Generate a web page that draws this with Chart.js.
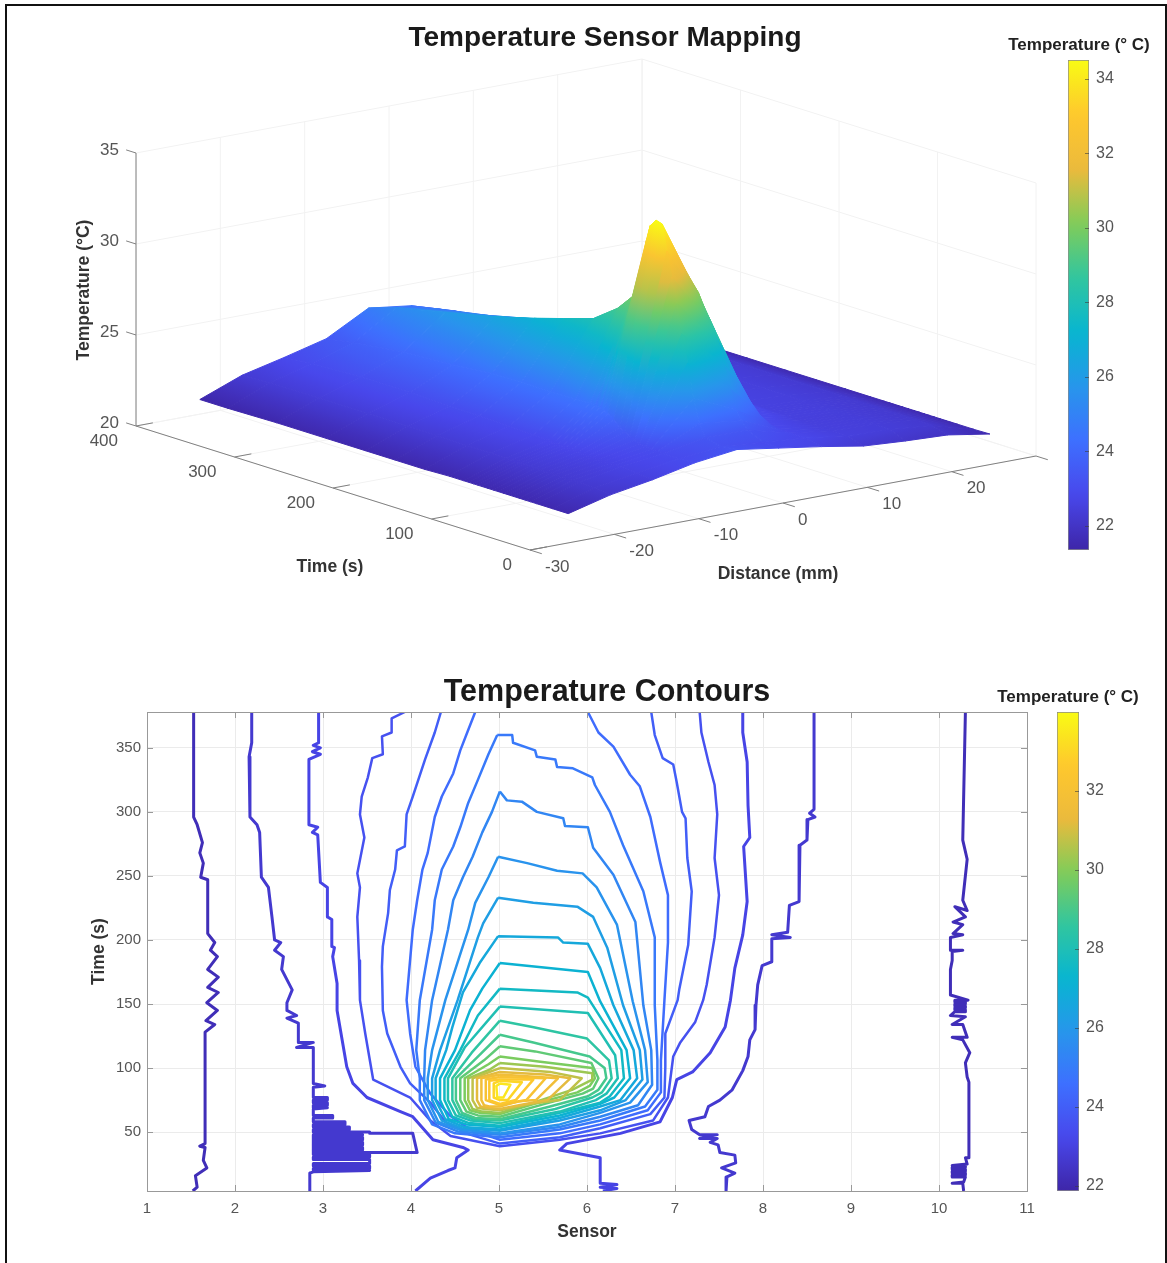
<!DOCTYPE html>
<html>
<head>
<meta charset="utf-8">
<title>Temperature Sensor Mapping</title>
<script src="https://cdn.jsdelivr.net/npm/chart.js@4"></script>
<style>
html, body { margin: 0; padding: 0; background: #fff; overflow: hidden; width: 1167px; height: 1263px; }
canvas { position: absolute; filter: blur(0.5px); }
#frame { position: absolute; left: 5px; top: 4px; right: 0; bottom: -10px; border: 2px solid #111; }
</style>
</head>
<body>
<div id="frame"></div>
<canvas id="surface" width="1210" height="620" style="left:0;top:0"></canvas>
<canvas id="contours" width="1094" height="603" style="left:60px;top:660px"></canvas>
<canvas id="bar1" width="158" height="517" style="left:1000px;top:33px"></canvas>
<canvas id="bar2" width="158" height="506" style="left:989px;top:685px"></canvas>
<script>
// surface table, one array per sensor, values at sampleTimes
const sampleTimes = [4, 20, 36, 42, 48, 54, 60, 65, 70, 75, 80, 86, 92, 96, 100, 105, 110, 125, 150, 180, 210, 250, 300, 350, 378];
const sensorDistances = [-25, -20, -15, -10, -5, 0, 5, 10, 15, 20, 25];
const tempSensor1 = [21.5, 21.5, 21.5, 21.5, 21.5, 21.5, 21.5, 21.5, 21.5, 21.5, 21.5, 21.5, 21.5, 21.5, 21.5, 21.5, 21.5, 21.5, 21.45, 21.45, 21.45, 21.45, 21.45, 21.4, 21.4];
const tempSensor2 = [22.1, 22.2, 22.25, 22.25, 22.25, 22.25, 22.25, 22.25, 22.25, 22.27, 22.28, 22.29, 22.3, 22.3, 22.3, 22.3, 22.3, 22.32, 22.33, 22.35, 22.38, 22.4, 22.38, 22.35, 22.3];
const tempSensor3 = [22.5, 22.6, 22.65, 22.65, 22.65, 22.65, 22.65, 22.68, 22.7, 22.72, 22.75, 22.76, 22.78, 22.79, 22.8, 22.82, 22.85, 22.9, 22.97, 23, 23.05, 23.1, 23.1, 23, 22.85];
const tempSensor4 = [23, 22.95, 22.95, 22.97, 23, 23.05, 23.1, 23.2, 23.35, 23.5, 23.65, 23.95, 24.2, 24.3, 24.4, 24.43, 24.45, 24.45, 24.4, 24.45, 24.4, 24.2, 24.05, 23.7, 23.45];
const tempSensor5 = [23.3, 23.2, 23.4, 24.1, 25.35, 27.2, 28.7, 30.3, 31.65, 33, 34.4, 34.5, 34.1, 33.2, 31.9, 30.5, 29.9, 29, 28, 27.5, 27, 26.4, 25.8, 25.2, 24.7];
const tempSensor6 = [22.95, 23, 23.4, 23.8, 24.3, 25.4, 26.6, 27.6, 28.4, 28.9, 29.4, 30.1, 30.5, 30.1, 29.85, 29.3, 28.9, 28.4, 27.7, 27.05, 26.45, 25.85, 25.2, 24.7, 24.4];
const tempSensor7 = [22.6, 22.8, 22.8, 22.82, 22.85, 22.88, 22.9, 22.95, 23, 23.05, 23.1, 23.15, 23.2, 23.3, 23.45, 23.52, 23.6, 23.85, 24.05, 24.25, 24.3, 24.25, 24.1, 23.85, 23.7];
const tempSensor8 = [22.2, 22.5, 22.5, 22.5, 22.5, 22.5, 22.5, 22.5, 22.5, 22.52, 22.55, 22.55, 22.55, 22.55, 22.55, 22.56, 22.58, 22.6, 22.62, 22.75, 22.95, 23, 23, 22.98, 22.8];
const tempSensor9 = [22.05, 22.4, 22.42, 22.42, 22.42, 22.42, 22.42, 22.42, 22.43, 22.44, 22.44, 22.44, 22.45, 22.45, 22.46, 22.46, 22.47, 22.48, 22.48, 22.5, 22.52, 22.54, 22.55, 22.5, 22.2];
const tempSensor10 = [21.95, 22.2, 22.22, 22.22, 22.22, 22.22, 22.23, 22.23, 22.23, 22.24, 22.24, 22.24, 22.24, 22.25, 22.25, 22.25, 22.25, 22.26, 22.26, 22.26, 22.27, 22.27, 22.28, 22.2, 21.9];
const tempSensor11 = [21.57, 21.55, 21.55, 21.55, 21.55, 21.55, 21.55, 21.55, 21.55, 21.55, 21.55, 21.55, 21.55, 21.55, 21.55, 21.55, 21.55, 21.55, 21.55, 21.55, 21.55, 21.55, 21.55, 21.55, 21.55];
const tempBySensor = [tempSensor1, tempSensor2, tempSensor3, tempSensor4, tempSensor5, tempSensor6, tempSensor7, tempSensor8, tempSensor9, tempSensor10, tempSensor11];

const timeTicks = [0, 100, 200, 300, 400];
const distanceTicks = [-30, -20, -10, 0, 10, 20];
const tempTicks = [20, 25, 30, 35];
const barTicksTop = [22, 24, 26, 28, 30, 32, 34];
const barTicksBottom = [22, 24, 26, 28, 30, 32];

// contour lines as [sensor, time]
const c1a = [[1.53,378],[1.53,296],[1.57,290],[1.63,276],[1.6,268],[1.64,260],[1.61,249],[1.69,247],[1.69,205],[1.77,198],[1.72,192],[1.8,187],[1.69,177],[1.81,171],[1.69,163],[1.81,159],[1.68,151],[1.8,145],[1.67,137],[1.77,134],[1.66,128],[1.66,41],[1.6,39],[1.66,38],[1.64,28],[1.68,22],[1.55,16],[1.57,7],[1.52,4]];
const c1b = [[10.3,378],[10.27,278],[10.32,263],[10.27,231],[10.32,223],[10.18,226],[10.3,218],[10.16,214],[10.27,212],[10.16,205],[10.27,204],[10.13,202],[10.13,192],[10.27,192],[10.15,191],[10.15,184],[10.13,177],[10.13,157],[10.33,153],[10.18,153],[10.18,151.5],[10.3,151.5],[10.3,150],[10.18,150],[10.18,148.5],[10.3,148.5],[10.3,147],[10.18,147],[10.18,145.5],[10.3,145.5],[10.3,144],[10.18,144],[10.13,141],[10.3,140],[10.15,134],[10.27,134],[10.32,124],[10.15,124],[10.27,122],[10.35,112],[10.3,104],[10.32,93],[10.34,89],[10.34,30],[10.3,30],[10.32,25],[10.15,24],[10.3,24],[10.3,22.5],[10.15,22.5],[10.15,21],[10.3,21],[10.3,19.5],[10.15,19.5],[10.15,18],[10.3,18],[10.3,16.5],[10.15,16.5],[10.15,15],[10.3,15],[10.28,11],[10.15,10],[10.27,10],[10.28,4]];
const c2a = [[2.19,378],[2.19,354],[2.16,343],[2.17,296],[2.25,290],[2.28,284],[2.3,249],[2.38,241],[2.42,218],[2.45,200],[2.52,198],[2.45,192],[2.55,187],[2.53,177],[2.65,161],[2.59,151],[2.59,145],[2.7,141],[2.59,139],[2.72,135],[2.72,120],[2.89,120],[2.7,116],[2.89,116],[2.89,88],[3.02,86],[2.89,85],[2.89,77],[3.05,77],[3.05,75],[2.89,75],[2.89,73],[3.05,73],[3.05,71],[2.89,71],[2.89,69],[3.05,69],[2.89,68],[2.89,63],[3.11,63],[3.11,61],[2.89,61],[2.89,58],[3.25,58],[3.25,56],[2.89,56],[2.89,54],[3.3,54],[3.3,52],[2.89,52],[2.89,50],[3.53,50],[3.53,49],[4.02,49],[4.07,34],[3.45,34],[2.89,34],[2.89,36],[3.45,36],[3.45,38],[2.89,38],[2.89,40],[3.45,40],[3.45,42],[2.89,42],[2.89,44],[3.45,44],[3.45,46],[2.89,46],[2.89,48],[3.45,48],[2.89,48],[2.89,32.5],[3.53,32.5],[3.53,30.5],[2.89,30.5],[2.89,28.5],[3.53,28.5],[3.53,25.5],[2.89,25.5],[2.89,23.5],[3.53,23.5],[3.53,21.5],[2.89,21.5],[2.89,20],[3.53,20],[2.89,19],[2.85,18],[2.85,4]];
const c2b = [[8.58,378],[8.58,302],[8.53,299],[8.59,296],[8.51,294],[8.5,278],[8.42,274],[8.41,230],[8.3,227],[8.28,206],[8.1,204],[8.31,202],[8.1,201],[8.1,183],[7.99,180],[7.94,165],[7.92,149],[7.91,130],[7.85,122],[7.83,109],[7.77,98],[7.65,83],[7.51,75],[7.38,70],[7.34,62],[7.16,59],[7.19,52],[7.28,48],[7.48,48],[7.28,45],[7.48,45],[7.4,42],[7.49,40],[7.51,34],[7.68,32],[7.69,26],[7.53,22],[7.68,18],[7.59,15],[7.58,4]];
const c3a = [[2.95,378],[2.95,354],[2.89,352],[2.97,350],[2.88,347],[2.97,345],[2.84,341],[2.84,290],[2.94,288],[2.88,284],[2.94,282],[2.97,245],[3.05,241],[3.05,218],[3.1,216],[3.1,195],[3.13,194],[3.11,187],[3.16,166],[3.16,145],[3.27,101],[3.34,88],[3.5,77],[3.88,66],[4.02,62],[4.25,44],[4.59,38],[4.65,36],[4.52,30],[4.5,22],[4.42,20],[4.22,14],[4.05,4]];
const c3b = [[7.77,378],[7.77,362],[7.82,339],[7.83,305],[7.85,280],[7.78,273],[7.82,230],[7.77,204],[7.68,178],[7.63,153],[7.57,132],[7.4,112],[7.2,97],[7.02,91],[6.97,77],[6.83,58],[6.38,49],[5.77,41],[5.69,36],[6.15,30],[6.15,10],[6.34,9],[6.15,7],[6.34,6],[6.18,4]];
const c4 = [[3.93,378],[3.78,373],[3.78,362],[3.67,359],[3.68,345],[3.56,342],[3.51,327],[3.44,312],[3.42,298],[3.47,280],[3.39,252],[3.42,241],[3.39,218],[3.41,184],[3.42,153],[3.48,127],[3.57,91],[3.99,77],[4.22,59],[4.45,47],[5.01,39],[5.69,44],[6.15,49],[6.75,59],[6.92,77],[6.98,109],[7.06,120],[7.23,136],[7.32,153],[7.36,165],[7.45,202],[7.5,235],[7.45,264],[7.48,298],[7.45,321],[7.38,339],[7.3,362],[7.28,378]];
const c5 = [[4.34,378],[4.27,362],[4.16,341],[4.02,312],[3.95,298],[3.93,273],[3.84,270],[3.82,255],[3.76,239],[3.74,221],[3.68,195],[3.67,179],[3.68,145],[3.73,127],[3.88,101],[3.99,88],[4.22,73],[4.39,58],[4.67,48],[5.01,41],[5.69,46],[6.15,53],[6.72,64],[6.88,77],[6.89,101],[6.89,127],[7.03,153],[7.05,162],[7.15,196],[7.19,238],[7.14,264],[7.12,295],[7.08,300],[7.02,323],[6.98,337],[6.86,342],[6.77,360],[6.73,378]];
const c6 = [[4.73,378],[4.65,364],[4.56,348],[4.48,330],[4.35,312],[4.27,296],[4.19,268],[4.13,255],[4.07,231],[4.02,208],[3.95,153],[3.99,127],[4.05,101],[4.22,80],[4.44,63],[4.67,52],[5.01,44],[5.69,49],[6.15,56],[6.69,67],[6.84,81],[6.84,106],[6.88,153],[6.92,198],[6.92,235],[6.83,261],[6.72,296],[6.6,320],[6.49,329],[6.3,351],[6.13,362],[6.01,378]];
const c7 = [[4.98,360],[5.15,360],[5.16,354],[5.41,348],[5.43,343],[5.64,341],[5.66,335],[5.84,334],[6.06,327],[6.09,321],[6.26,300],[6.41,274],[6.64,238],[6.77,202],[6.77,149],[6.8,106],[6.8,83],[6.66,70],[6.15,59],[5.69,52],[5.01,46],[4.5,49],[4.24,56],[4.1,75],[4.1,92],[4.06,114],[4.1,153],[4.24,208],[4.27,231],[4.35,255],[4.48,273],[4.56,288],[4.65,307],[4.76,325],[4.88,345],[4.98,360]];
const c8 = [[5.01,316],[5.09,309],[5.26,308],[5.43,300],[5.73,295],[5.75,289],[6.01,288],[6.07,272],[6.3,251],[6.55,214],[6.64,149],[6.73,114],[6.74,87],[6.58,71],[6.15,62],[5.69,54],[5.01,48],[4.53,50.5],[4.28,57.5],[4.15,75],[4.15,92],[4.16,114],[4.24,153],[4.42,208],[4.48,231],[4.59,249],[4.7,265],[4.81,284],[4.92,300],[5.01,316]];
const c9 = [[4.99,265],[5.32,260],[5.66,254],[5.95,252],[6.11,241],[6.34,212],[6.52,152],[6.66,114],[6.69,89],[6.49,73],[6.15,65],[5.69,56],[5.01,49],[4.55,52],[4.31,58],[4.19,75],[4.19,92],[4.24,114],[4.39,153],[4.65,208],[4.73,229],[4.88,249],[4.99,265]];
const c10 = [[4.99,233],[5.39,229],[5.89,226],[6.07,218],[6.23,194],[6.41,149],[6.6,114],[6.63,91],[6.44,75],[6.15,67],[5.69,59],[5.01,51],[4.58,53],[4.35,59],[4.24,75],[4.24,92],[4.33,114],[4.53,153],[4.76,202],[4.82,213],[4.99,233]];
const c11 = [[4.99,203],[5.67,202],[5.73,198],[6.01,197],[6.15,178],[6.3,149],[6.53,114],[6.57,92],[6.38,75],[6.15,70],[5.69,61],[5.01,52],[4.6,54],[4.39,60],[4.28,75],[4.28,92],[4.4,114],[4.47,132],[4.59,159],[4.78,182],[4.99,203]];
const c12 = [[5.01,182],[6.01,175],[6.15,152],[6.45,114],[6.49,92],[6.31,77],[6.15,72],[5.69,63],[5.01,54],[4.63,56],[4.43,60],[4.33,75],[4.33,92],[4.5,114],[4.67,145],[4.81,162],[5.01,182]];
const c13 = [[5.01,162],[5.89,159],[6.01,155],[6.39,114],[6.42,92],[6.26,78],[6.15,73],[5.69,65],[5.01,55],[4.66,57],[4.47,62],[4.38,75],[4.38,92],[4.56,114],[4.76,141],[5.01,162]];
const c14 = [[5.01,148],[6.01,143],[6.32,110],[6.35,92],[6.22,80],[6.1,75],[5.69,66],[5.01,57],[4.68,59],[4.51,63],[4.42,75],[4.42,92],[4.61,116],[5.01,148]];
const c15 = [[5.01,137],[5.38,132],[6,123],[6.25,106],[6.28,92],[6.17,81],[6.06,77],[5.64,68],[5.01,59],[4.71,60],[4.55,64],[4.47,75],[4.47,92],[4.69,112],[5.01,137]];
const c16 = [[5.01,126],[5.39,120],[6.03,109],[6.2,100],[6.22,92],[6.13,83],[6.01,78],[5.58,70],[5.01,60],[4.73,61],[4.58,65],[4.51,75],[4.51,92],[4.76,109],[5.01,126]];
const c17 = [[5.01,117],[5.41,113],[6.05,104],[6.13,92],[6.07,84],[5.95,80],[5.52,72],[5.01,62],[4.76,63],[4.63,66],[4.56,75],[4.56,92],[4.83,106],[5.01,117]];
const c18 = [[5.01,109],[5.47,105],[6.06,100],[6.09,92],[6.03,86],[5.89,81],[5.45,73],[5.01,64],[4.78,65],[4.67,67],[4.61,75],[4.61,92],[4.88,103],[5.01,109]];
const c19 = [[5.01,104],[5.52,101],[6.06,96],[6.06,91],[5.83,83],[5.39,73],[5.01,65],[4.81,66],[4.7,68],[4.65,75],[4.65,92],[4.9,99],[5.01,104]];
const c20 = [[5.01,100],[5.58,97],[5.94,92],[5.69,75],[5.35,72],[5.01,67],[4.84,68],[4.75,69],[4.7,75],[4.7,92],[5.01,100]];
const c21 = [[5.01,97],[5.52,95],[5.81,92],[5.55,75],[5.3,72],[5.01,68],[4.86,69],[4.79,70],[4.75,75],[4.75,92],[5.01,97]];
const c22 = [[5.01,95],[5.67,92],[5.42,75],[5.22,74],[5.01,70],[4.89,70],[4.83,71],[4.8,75],[4.8,92],[5.01,95]];
const c23 = [[5.01,93],[5.53,92],[5.31,75],[5.01,71],[4.85,75],[4.85,91],[5.01,93]];
const c24 = [[5.01,91],[5.39,91],[5.19,75],[5.01,72],[4.89,75],[4.89,90],[5.01,91]];
const c25 = [[5.01,90],[5.26,89],[5.1,75],[5.01,75],[4.94,77],[4.94,88],[5.01,90]];
const c26 = [[5.01,88],[5.13,87],[5.05,77],[4.98,77],[4.97,86],[5.01,88]];

const contourLevels = [22.2, 22.2, 22.65, 22.65, 23.1, 23.1, 23.55, 24, 24.45, 24.9, 25.35, 25.8, 26.25, 26.7, 27.15, 27.6, 28.05, 28.5, 28.95, 29.4, 29.85, 30.3, 30.75, 31.2, 31.65, 32.1, 32.55, 33, 33.45];
const contourLines = [c1a, c1b, c2a, c2b, c3a, c3b, c4, c5, c6, c7, c8, c9, c10, c11, c12, c13, c14, c15, c16, c17, c18, c19, c20, c21, c22, c23, c24, c25, c26];

const parulaStops = [[62,38,168],[72,71,235],[62,111,255],[39,150,235],[8,181,208],[49,198,159],[129,204,89],[236,186,60],[254,200,45],[249,251,20]];

function parula(f) {
    f = Math.max(0, Math.min(1, f)) * (parulaStops.length - 1);
    var i = Math.min(Math.floor(f), parulaStops.length - 2);
    var a = parulaStops[i], b = parulaStops[i + 1], k = f - i;
    return 'rgb(' + Math.round(a[0] + (b[0] - a[0]) * k) + ',' + Math.round(a[1] + (b[1] - a[1]) * k) + ',' + Math.round(a[2] + (b[2] - a[2]) * k) + ')';
}

// orthographic view of the 3D box
function project(t, d, z) {
    return {
        x: 530 + (d + 30) / 60 * 506 - t / 400 * 394,
        y: 550 - (d + 30) / 60 * 94 - t / 400 * 124 - (z - 20) * 18.2
    };
}

const surfMin = 21.35, surfMax = 34.5;

// colour a cell with a linear gradient running along its temperature slope
function cellGradient(chart, cell) {
    var sx = chart.scales.x, sy = chart.scales.y;
    var p = cell.map(function (c) {
        return { x: sx.getPixelForValue(c.x), y: sy.getPixelForValue(c.y), T: c.T };
    });
    var mean = (p[0].T + p[1].T + p[2].T + p[3].T) / 4;
    var frac = function (T) { return (T - surfMin) / (surfMax - surfMin); };
    if (!isFinite(p[0].x) || !isFinite(p[0].y)) return parula(frac(mean)); // scales not laid out yet
    var e1x = (p[1].x - p[0].x + p[2].x - p[3].x) / 2, e1y = (p[1].y - p[0].y + p[2].y - p[3].y) / 2, d1 = (p[1].T - p[0].T + p[2].T - p[3].T) / 2;
    var e2x = (p[3].x - p[0].x + p[2].x - p[1].x) / 2, e2y = (p[3].y - p[0].y + p[2].y - p[1].y) / 2, d2 = (p[3].T - p[0].T + p[2].T - p[1].T) / 2;
    var det = e1x * e2y - e1y * e2x;
    var lo = Math.min(p[0].T, p[1].T, p[2].T, p[3].T), hi = Math.max(p[0].T, p[1].T, p[2].T, p[3].T);
    if (Math.abs(det) < 1e-6 || hi - lo < 0.01) return parula(frac(mean));
    var a = (d1 * e2y - d2 * e1y) / det, b = (e1x * d2 - e2x * d1) / det;
    var n = a * a + b * b;
    if (n < 1e-9) return parula(frac(mean));
    var cx = (p[0].x + p[1].x + p[2].x + p[3].x) / 4, cy = (p[0].y + p[1].y + p[2].y + p[3].y) / 4;
    var g = chart.ctx.createLinearGradient(cx + (lo - mean) * a / n, cy + (lo - mean) * b / n, cx + (hi - mean) * a / n, cy + (hi - mean) * b / n);
    for (var i = 0; i <= 6; i++) {
        g.addColorStop(i / 6, parula(frac(lo + (hi - lo) * i / 6)));
    }
    return g;
}

function segment(a, b, color) {
    return { data: [a, b], showLine: true, pointRadius: 0, borderColor: color, borderWidth: 1, fill: false };
}

var surfaceSets = [];
// near cells first, Chart.js paints the first dataset last
for (var ti = 0; ti < sampleTimes.length - 1; ti++) {
    for (var si = 0; si < sensorDistances.length - 1; si++) {
        (function (ti, si) {
            var cell = [[ti, si], [ti, si + 1], [ti + 1, si + 1], [ti + 1, si]].map(function (k) {
                var T = tempBySensor[k[1]][k[0]];
                var p = project(sampleTimes[k[0]], sensorDistances[k[1]], T);
                return { x: p.x, y: p.y, T: T };
            });
            var shade = function (ctx) { return cellGradient(ctx.chart, cell); };
            surfaceSets.push({
                data: cell.concat([cell[0]]),
                showLine: true,
                pointRadius: 0,
                fill: 'shape',
                backgroundColor: shade,
                borderColor: shade,
                borderWidth: 1
            });
        })(ti, si);
    }
}

const wallColor = '#f2f2f2', gridColor = '#ebebeb', axisColor = '#808080';
var gridSets = [];
var wallDist = [-30, -20, -10, 0, 10, 20, 30];
wallDist.forEach(function (d) {
    gridSets.push(segment(project(400, d, 20), project(400, d, 35), wallColor));
    gridSets.push(segment(project(0, d, 20), project(400, d, 20), wallColor));
});
timeTicks.forEach(function (t) {
    gridSets.push(segment(project(t, 30, 20), project(t, 30, 35), wallColor));
    gridSets.push(segment(project(t, -30, 20), project(t, 30, 20), wallColor));
});
tempTicks.forEach(function (z) {
    gridSets.push(segment(project(400, -30, z), project(400, 30, z), wallColor));
    gridSets.push(segment(project(400, 30, z), project(0, 30, z), wallColor));
});
var axisSets = [
    segment(project(400, -30, 20), project(400, -30, 35), axisColor),
    segment(project(400, -30, 20), project(0, -30, 20), axisColor),
    segment(project(0, -30, 20), project(0, 30, 20), axisColor)
];
tempTicks.forEach(function (z) { axisSets.push(segment(project(400, -30, z), project(410, -30, z), axisColor)); });
timeTicks.forEach(function (t) { axisSets.push(segment(project(t, -30, 20), project(t, -28, 20), axisColor)); });
distanceTicks.concat([30]).forEach(function (d) { axisSets.push(segment(project(0, d, 20), project(-12, d, 20), axisColor)); });

// tick labels and axis names of the 3D box sit at projected positions
const surfaceText = {
    id: 'surfaceText',
    afterDraw: function (chart) {
        var ctx = chart.ctx, sx = chart.scales.x, sy = chart.scales.y;
        var put = function (p) { return [sx.getPixelForValue(p.x), sy.getPixelForValue(p.y)]; };
        ctx.save();
        ctx.font = '17px "Liberation Sans", Arial, sans-serif';
        ctx.fillStyle = '#555555';
        ctx.textBaseline = 'middle';
        ctx.textAlign = 'right';
        tempTicks.forEach(function (z) {
            var a = put(project(400, -30, z));
            ctx.fillText(z, a[0] - 17, a[1] - 3);
        });
        timeTicks.forEach(function (t) {
            var a = put(project(t, -30, 20));
            ctx.fillText(t, a[0] - 18, a[1] + 15);
        });
        ctx.textAlign = 'left';
        distanceTicks.forEach(function (d) {
            var a = put(project(0, d, 20));
            ctx.fillText(d, a[0] + 15, a[1] + 17);
        });
        ctx.font = 'bold 17.5px "Liberation Sans", Arial, sans-serif';
        ctx.fillStyle = '#333333';
        ctx.textAlign = 'center';
        ctx.fillText('Time (s)', 330, 567);
        ctx.fillText('Distance (mm)', 778, 574);
        ctx.translate(84, 290);
        ctx.rotate(-Math.PI / 2);
        ctx.fillText('Temperature (°C)', 0, 0);
        ctx.restore();
    }
};

new Chart(document.getElementById('surface'), {
    type: 'scatter',
    data: { datasets: surfaceSets.concat(axisSets, gridSets) },
    plugins: [surfaceText],
    options: {
        responsive: false,
        animation: false,
        events: [],
        layout: { padding: 0 },
        scales: {
            x: { type: 'linear', display: false, min: 0, max: 1210 },
            y: { type: 'linear', display: false, reverse: true, min: 57, max: 620 }
        },
        plugins: {
            legend: { display: false },
            tooltip: { enabled: false },
            title: {
                display: true,
                text: 'Temperature Sensor Mapping',
                color: '#1a1a1a',
                font: { family: '"Liberation Sans", Arial, sans-serif', size: 28, weight: 'bold' },
                padding: { top: 21, bottom: 2.4 }
            }
        }
    }
});

// short inward ticks and the closing sides of a MATLAB box
const boxTicks = {
    id: 'boxTicks',
    afterDraw: function (chart) {
        var ctx = chart.ctx, a = chart.chartArea;
        ctx.save();
        ctx.strokeStyle = '#999999';
        ctx.lineWidth = 1;
        ctx.beginPath();
        ctx.moveTo(a.left, a.top + 0.5); ctx.lineTo(a.right, a.top + 0.5);
        ctx.moveTo(a.right + 0.5, a.top); ctx.lineTo(a.right + 0.5, a.bottom);
        chart.scales.x.ticks.forEach(function (t) {
            var x = Math.round(chart.scales.x.getPixelForValue(t.value)) + 0.5;
            ctx.moveTo(x, a.bottom); ctx.lineTo(x, a.bottom - 6);
            ctx.moveTo(x, a.top); ctx.lineTo(x, a.top + 6);
        });
        chart.scales.y.ticks.forEach(function (t) {
            var y = Math.round(chart.scales.y.getPixelForValue(t.value)) + 0.5;
            ctx.moveTo(a.left, y); ctx.lineTo(a.left + 6, y);
            ctx.moveTo(a.right, y); ctx.lineTo(a.right - 6, y);
        });
        ctx.stroke();
        ctx.restore();
    }
};

// an empty axis that only reserves space, so the title stays centred on the canvas
function spacerAxis(position, width) {
    return {
        type: 'linear',
        position: position,
        afterFit: function (s) { s.width = width; },
        grid: { display: false, drawTicks: false },
        border: { display: false },
        ticks: { display: false }
    };
}

const contourMin = 21.87, contourMax = 34;
var contourSets = contourLines.map(function (line, i) {
    return {
        data: line.map(function (p) { return { x: p[0], y: p[1] }; }),
        showLine: true,
        pointRadius: 0,
        borderWidth: i < 6 ? 3 : 2.5,
        borderJoinStyle: 'round',
        borderColor: parula((contourLevels[i] - contourMin) / (contourMax - contourMin))
    };
}).reverse();

new Chart(document.getElementById('contours'), {
    type: 'scatter',
    data: { datasets: contourSets },
    plugins: [boxTicks],
    options: {
        responsive: false,
        animation: false,
        events: [],
        scales: {
            x: {
                type: 'linear', min: 1, max: 11,
                afterFit: function (s) { s.height = 72; s.paddingLeft = 0; s.paddingRight = 0; },
                grid: { color: gridColor, drawTicks: false },
                border: { color: '#999999' },
                ticks: { stepSize: 1, padding: 9, color: '#555555', font: { family: '"Liberation Sans", Arial, sans-serif', size: 15 } },
                title: { display: true, text: 'Sensor', color: '#333333', padding: { top: 0, bottom: 20 }, font: { family: '"Liberation Sans", Arial, sans-serif', size: 17.5, weight: 'bold' } }
            },
            y: {
                type: 'linear', min: 4, max: 378,
                afterFit: function (s) { s.width = 87; },
                grid: { color: gridColor, drawTicks: false },
                border: { color: '#999999' },
                ticks: { stepSize: 50, includeBounds: false, padding: 6, color: '#555555', font: { family: '"Liberation Sans", Arial, sans-serif', size: 15 } },
                title: { display: true, text: 'Time (s)', color: '#333333', padding: { top: 29, bottom: 0 }, font: { family: '"Liberation Sans", Arial, sans-serif', size: 17.5, weight: 'bold' } }
            },
            yRight: spacerAxis('right', 127)
        },
        plugins: {
            legend: { display: false },
            tooltip: { enabled: false },
            title: {
                display: true,
                text: 'Temperature Contours',
                color: '#1a1a1a',
                font: { family: '"Liberation Sans", Arial, sans-serif', size: 30.5, weight: 'bold' },
                padding: { top: 14.7, bottom: 0.7 }
            }
        }
    }
});

const barTickMarks = {
    id: 'barTickMarks',
    afterDraw: function (chart) {
        var ctx = chart.ctx, a = chart.chartArea;
        ctx.save();
        ctx.strokeStyle = 'rgba(60,60,60,0.6)';
        ctx.beginPath();
        chart.scales.y.ticks.forEach(function (t) {
            var y = Math.round(chart.scales.y.getPixelForValue(t.value)) + 0.5;
            ctx.moveTo(a.right - 4, y); ctx.lineTo(a.right, y);
        });
        ctx.stroke();
        ctx.restore();
    }
};

function colorBar(id, lo, hi, ticks, titlePad, leftPad, axisWidth) {
    new Chart(document.getElementById(id), {
        type: 'bar',
        data: {
            labels: [''],
            datasets: [{
                data: [[lo, hi]],
                yAxisID: 'y',
                barPercentage: 1,
                categoryPercentage: 1,
                borderWidth: 1,
                borderColor: '#8a8a8a',
                borderSkipped: false,
                backgroundColor: function (ctx) {
                    var y = ctx.chart.scales.y;
                    var y0 = y.getPixelForValue(lo), y1 = y.getPixelForValue(hi);
                    if (!isFinite(y0) || !isFinite(y1)) return '#3e26a8';
                    var g = ctx.chart.ctx.createLinearGradient(0, y0, 0, y1);
                    for (var i = 0; i <= 40; i++) g.addColorStop(i / 40, parula(i / 40));
                    return g;
                }
            }]
        },
        plugins: [barTickMarks],
        options: {
            responsive: false,
            animation: false,
            events: [],
            scales: {
                x: { display: false },
                yLeft: spacerAxis('left', leftPad),
                y: {
                    position: 'right',
                    min: lo,
                    max: hi,
                    afterFit: function (s) { s.width = axisWidth; s.paddingTop = 0; s.paddingBottom = 0; },
                    afterBuildTicks: function (s) { s.ticks = ticks.map(function (v) { return { value: v }; }); },
                    grid: { display: false, drawTicks: false },
                    border: { display: false },
                    ticks: { padding: 7, color: '#555555', font: { family: '"Liberation Sans", Arial, sans-serif', size: 16 } }
                }
            },
            plugins: {
                legend: { display: false },
                tooltip: { enabled: false },
                title: {
                    display: true,
                    text: 'Temperature (° C)',
                    color: '#222222',
                    font: { family: '"Liberation Sans", Arial, sans-serif', size: 17, weight: 'bold' },
                    padding: titlePad
                }
            }
        }
    });
}

colorBar('bar1', 21.35, 34.5, barTicksTop, { top: 2, bottom: 4.6 }, 68, 69);
colorBar('bar2', 21.87, 34, barTicksBottom, { top: 2, bottom: 4.6 }, 68, 68);
</script>
</body>
</html>
